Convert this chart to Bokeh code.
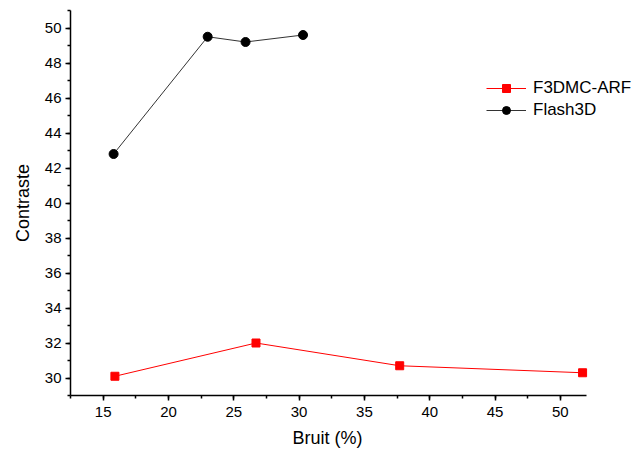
from bokeh.plotting import figure
from bokeh.models import Range1d, SingleIntervalTicker, Legend, LegendItem, Title
from bokeh.embed import file_html
from bokeh.resources import INLINE

# Data
f3dmc_x = [15.9, 26.7, 37.7, 51.7]
f3dmc_y = [30.1, 32.0, 30.7, 30.3]
flash_x = [15.8, 23.0, 25.9, 30.3]
flash_y = [42.8, 49.5, 49.2, 49.6]
series_names = ["F3DMC-ARF", "Flash3D"]
x_label = "Bruit (%)"
y_label = "Contraste"
x_axis_span = (12.5, 52.0)
y_axis_span = (29, 51)

FONT = "Liberation Sans"

W, H = 641, 455
left, top, bottom = 70, 10, 60
frame_w = W - left
x_per_px = (x_axis_span[1] - x_axis_span[0]) / 516.0
x_end = x_axis_span[0] + frame_w * x_per_px

p = figure(width=W, height=H, output_backend="svg", toolbar_location=None,
           x_range=Range1d(x_axis_span[0], x_end), y_range=Range1d(*y_axis_span),
           min_border_left=left, min_border_right=0, min_border_top=top, min_border_bottom=bottom)
p.outline_line_color = None
p.xgrid.visible = False
p.ygrid.visible = False
p.background_fill_color = "white"
p.border_fill_color = "white"

r1l = p.line(f3dmc_x, f3dmc_y, line_color="#ff0000", line_width=1)
r1m = p.scatter(f3dmc_x, f3dmc_y, marker="square", size=8, fill_color="#ff0000", line_color="#ff0000")
r2l = p.line(flash_x, flash_y, line_color="#333333", line_width=1)
r2m = p.scatter(flash_x, flash_y, marker="circle", size=9, fill_color="black", line_color="black")

for ax, interval in ((p.xaxis[0], 5), (p.yaxis[0], 2)):
    ax.ticker = SingleIntervalTicker(interval=interval, num_minor_ticks=2)
    ax.axis_line_color = "black"
    ax.axis_line_width = 1.5
    ax.major_tick_line_color = "black"
    ax.major_tick_line_width = 1.5
    ax.minor_tick_line_color = "black"
    ax.minor_tick_line_width = 1.5
    ax.major_tick_in = 0
    ax.major_tick_out = 5
    ax.minor_tick_in = 0
    ax.minor_tick_out = 3
    ax.major_label_text_font = FONT
    ax.major_label_text_font_size = "15px"
    ax.major_label_text_color = "black"
    ax.axis_label_text_font = FONT
    ax.axis_label_text_font_size = "18px"
    ax.axis_label_text_font_style = "normal"
    ax.axis_label_text_color = "black"

p.xaxis[0].bounds = x_axis_span
p.yaxis[0].axis_label = y_label
p.xaxis[0].major_label_standoff = 6
p.yaxis[0].major_label_standoff = 4
p.yaxis[0].axis_label_standoff = 9

# x-axis label centred under the drawn axis span (the frame extends further right for the legend)
xt = Title(text=x_label, align="left", offset=222, standoff=12,
           text_font=FONT, text_font_size="18px", text_font_style="normal", text_color="black")
p.add_layout(xt, "below")

legend = Legend(items=[LegendItem(label=series_names[0], renderers=[r1l, r1m]),
                       LegendItem(label=series_names[1], renderers=[r2l, r2m])],
                location=(416, 275))
legend.border_line_color = None
legend.background_fill_alpha = 0
legend.padding = 0
legend.margin = 0
legend.spacing = 2
legend.glyph_width = 40
legend.glyph_height = 20
legend.label_height = 20
legend.label_standoff = 7
legend.label_text_font = FONT
legend.label_text_font_size = "17px"
legend.label_text_color = "black"
p.add_layout(legend, "center")

open("out.html", "w").write(file_html(p, INLINE))
